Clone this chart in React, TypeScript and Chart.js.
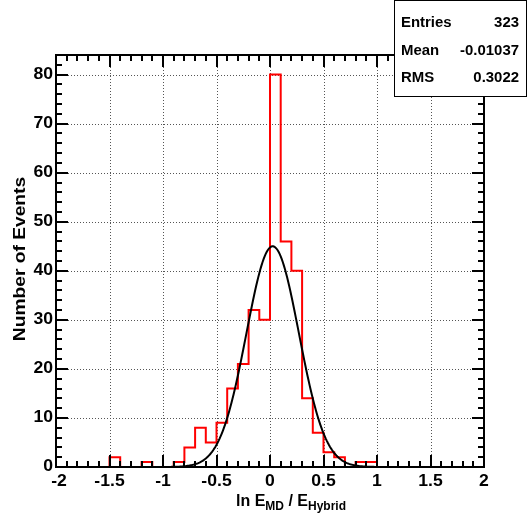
import React, { useEffect, useRef } from "react";
import { Chart, registerables } from "chart.js";

Chart.register(...registerables);

// ---- data ----
const binLowEdges = [
  -2.0, -1.9, -1.8, -1.7, -1.6, -1.5, -1.4, -1.3, -1.2, -1.1,
  -1.0, -0.9, -0.8, -0.7, -0.6, -0.5, -0.4, -0.3, -0.2, -0.1,
  0.0, 0.1, 0.2, 0.3, 0.4, 0.5, 0.6, 0.7, 0.8, 0.9,
  1.0, 1.1, 1.2, 1.3, 1.4, 1.5, 1.6, 1.7, 1.8, 1.9,
];
const binCounts = [
  0, 0, 0, 0, 0, 2, 0, 0, 1, 0,
  0, 1, 4, 8, 5, 9, 16, 21, 32, 30,
  80, 46, 40, 14, 7, 3, 2, 0, 1, 1,
  0, 0, 0, 0, 0, 0, 0, 0, 0, 0,
];
const histUpperEdge = 2.0;

// Gaussian fit parameters
const fitConstant = 45.0;
const fitMean = 0.025;
const fitSigma = 0.245;

const xMin = -2;
const xMax = 2;
const yMin = 0;
const yMax = 84;
const xMajorTicks = [-2, -1.5, -1, -0.5, 0, 0.5, 1, 1.5, 2];
const xTickLabels = ["-2", "-1.5", "-1", "-0.5", "0", "0.5", "1", "1.5", "2"];
const yMajorTicks = [0, 10, 20, 30, 40, 50, 60, 70, 80];
const yTickLabels = ["0", "10", "20", "30", "40", "50", "60", "70", "80"];
const xMinorStep = 0.1;
const yMinorStep = 2;

const statsLabels = ["Entries", "Mean", "RMS"];
const statsValues = ["323", "-0.01037", "0.3022"];

const yTitle = "Number of Events";

const FONT = '"Liberation Sans", Arial, Helvetica, sans-serif';

function drawText(
  ctx: CanvasRenderingContext2D,
  s: string,
  x: number,
  y: number,
  size: number,
  align: CanvasTextAlign,
  baseline: CanvasTextBaseline,
  sx = 1,
  rot = 0
) {
  ctx.save();
  ctx.translate(x, y);
  ctx.rotate(rot);
  ctx.scale(sx, 1);
  ctx.font = `bold ${size}px ${FONT}`;
  ctx.textAlign = align;
  ctx.textBaseline = baseline;
  ctx.fillStyle = "#000";
  ctx.fillText(s, 0, 0);
  ctx.restore();
}

const decorPlugin = {
  id: "rootDecor",
  beforeDatasetsDraw(chart: any) {
    const ctx: CanvasRenderingContext2D = chart.ctx;
    const { left, right, top, bottom } = chart.chartArea;
    const xs = chart.scales.x;
    const ys = chart.scales.y;
    ctx.save();
    ctx.strokeStyle = "#555";
    ctx.lineWidth = 1;
    ctx.setLineDash([1, 2]);
    xMajorTicks.forEach((v) => {
      if (v <= xMin || v >= xMax) return;
      const px = Math.round(xs.getPixelForValue(v)) + 0.5;
      ctx.beginPath();
      ctx.moveTo(px, top);
      ctx.lineTo(px, bottom);
      ctx.stroke();
    });
    yMajorTicks.forEach((v) => {
      if (v <= yMin || v >= yMax) return;
      const py = Math.round(ys.getPixelForValue(v)) + 0.5;
      ctx.beginPath();
      ctx.moveTo(left, py);
      ctx.lineTo(right, py);
      ctx.stroke();
    });
    ctx.restore();
  },
  afterDatasetsDraw(chart: any) {
    const ctx: CanvasRenderingContext2D = chart.ctx;
    const { left, right, top, bottom } = chart.chartArea;
    const xs = chart.scales.x;
    const ys = chart.scales.y;
    ctx.save();
    ctx.strokeStyle = "#000";
    ctx.lineWidth = 2;
    ctx.setLineDash([]);
    // frame
    ctx.strokeRect(left, top, right - left, bottom - top);
    const majorLen = 12;
    const minorLen = 6;
    const nx = Math.round((xMax - xMin) / xMinorStep);
    for (let i = 0; i <= nx; i++) {
      const v = xMin + i * xMinorStep;
      const major = xMajorTicks.some((m) => Math.abs(m - v) < 1e-6);
      const len = major ? majorLen : minorLen;
      const px = Math.round(xs.getPixelForValue(v));
      ctx.beginPath();
      ctx.moveTo(px, bottom);
      ctx.lineTo(px, bottom - len);
      ctx.moveTo(px, top);
      ctx.lineTo(px, top + len);
      ctx.stroke();
    }
    const ny = Math.round((yMax - yMin) / yMinorStep);
    for (let i = 0; i <= ny; i++) {
      const v = yMin + i * yMinorStep;
      const major = yMajorTicks.some((m) => Math.abs(m - v) < 1e-6);
      const len = major ? majorLen : minorLen;
      const py = Math.round(ys.getPixelForValue(v));
      ctx.beginPath();
      ctx.moveTo(left, py);
      ctx.lineTo(left + len, py);
      ctx.moveTo(right, py);
      ctx.lineTo(right - len, py);
      ctx.stroke();
    }
    ctx.restore();

    // tick labels
    xMajorTicks.forEach((v, i) => {
      const shift = i === 0 ? 3 : 0;
      drawText(ctx, xTickLabels[i], xs.getPixelForValue(v) + shift, bottom + 7, 16, "center", "top", 1.1);
    });
    yMajorTicks.forEach((v, i) => {
      drawText(ctx, yTickLabels[i], left - 3, ys.getPixelForValue(v), 16, "right", "middle", 1.1);
    });

    // x title: ln E_MD / E_Hybrid
    const pieces = [
      { t: "ln E", s: 16, dy: 0 },
      { t: "MD", s: 12, dy: 4 },
      { t: " / E", s: 16, dy: 0 },
      { t: "Hybrid", s: 12, dy: 4 },
    ];
    ctx.save();
    let total = 0;
    const widths = pieces.map((p) => {
      ctx.font = `bold ${p.s}px ${FONT}`;
      const w = ctx.measureText(p.t).width;
      total += w;
      return w;
    });
    ctx.restore();
    let cx = 291 - total / 2;
    const base = 506;
    pieces.forEach((p, i) => {
      drawText(ctx, p.t, cx, base + p.dy, p.s, "left", "alphabetic");
      cx += widths[i];
    });

    // y title
    drawText(ctx, yTitle, 21, (top + bottom) / 2 - 2, 16, "center", "middle", 1.2, -Math.PI / 2);

    // stats box
    ctx.save();
    ctx.fillStyle = "#fff";
    ctx.fillRect(394, 0, 133, 97);
    ctx.strokeStyle = "#000";
    ctx.lineWidth = 1;
    ctx.strokeRect(394.5, 0.5, 132, 96);
    ctx.restore();
    const rowBase = [27, 55, 82];
    statsLabels.forEach((lab, i) => {
      drawText(ctx, lab, 401, rowBase[i], 14.5, "left", "alphabetic", 1.03);
      drawText(ctx, statsValues[i], 519, rowBase[i], 14.5, "right", "alphabetic", 1.03);
    });
  },
};

export default function App() {
  const ref = useRef<HTMLCanvasElement | null>(null);
  useEffect(() => {
    if (!ref.current) return;
    const histPoints = binLowEdges.map((x, i) => ({ x, y: binCounts[i] }));
    histPoints.push({ x: histUpperEdge, y: binCounts[binCounts.length - 1] });

    const fitPoints: { x: number; y: number }[] = [];
    for (let i = 0; i <= 400; i++) {
      const x = xMin + (i * (xMax - xMin)) / 400;
      const y = fitConstant * Math.exp(-0.5 * Math.pow((x - fitMean) / fitSigma, 2));
      fitPoints.push({ x, y });
    }

    const chart = new Chart(ref.current, {
      type: "scatter",
      data: {
        datasets: [
          {
            label: "fit",
            data: fitPoints,
            showLine: true,
            borderColor: "#000",
            borderWidth: 2,
            pointRadius: 0,
            tension: 0,
          },
          {
            label: "hist",
            data: histPoints,
            showLine: true,
            stepped: "before",
            borderColor: "#ff0000",
            borderWidth: 2,
            pointRadius: 0,
          } as any,
        ],
      },
      options: {
        animation: false,
        responsive: false,
        devicePixelRatio: 1,
        layout: { padding: { left: 56, right: 43, top: 55, bottom: 51 } },
        plugins: { legend: { display: false }, tooltip: { enabled: false } },
        scales: {
          x: { type: "linear", min: xMin, max: xMax, display: false },
          y: { type: "linear", min: yMin, max: yMax, display: false },
        },
      },
      plugins: [decorPlugin],
    });
    return () => chart.destroy();
  }, []);

  return (
    <div style={{ position: "absolute", left: 0, top: 0, width: 527, height: 518, background: "#fff" }}>
      <canvas ref={ref} width={527} height={518} />
    </div>
  );
}
